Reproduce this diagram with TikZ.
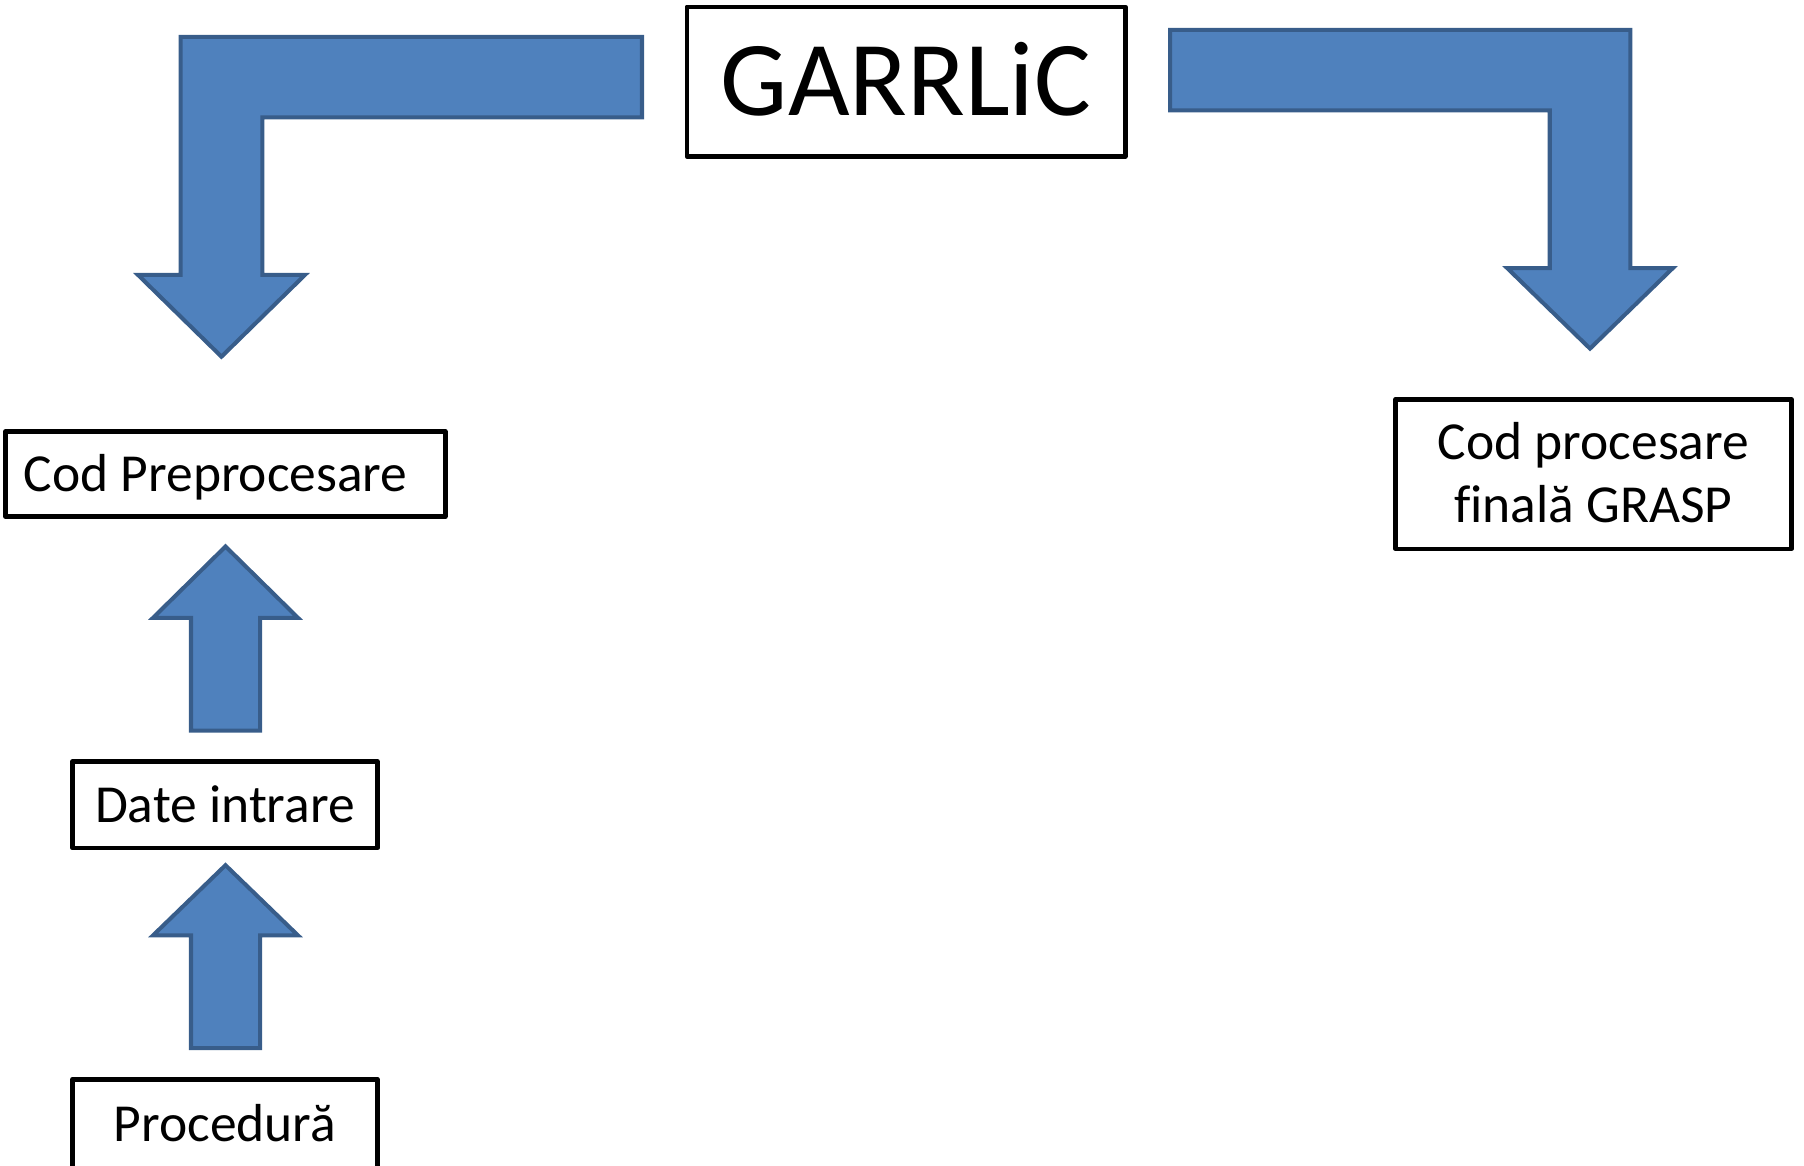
\documentclass[tikz,border=0pt]{standalone}
\usepackage{fontspec}
\setmainfont{Carlito}[Ligatures=CommonOff]
\definecolor{arrowfill}{RGB}{79,129,189}
\definecolor{arrowline}{RGB}{56,93,138}
\begin{document}
\begin{tikzpicture}[x=1pt,y=-1pt,
  blockarrow/.style={fill=arrowfill,draw=arrowline,line width=3.5pt,line join=miter},
  labelfont/.style={font=\fontsize{46.5}{55}\selectfont},
  box/.style={draw=black,line width=4pt,line join=round,inner sep=0pt,
    labelfont,text height=30pt,text depth=0pt},
  titlebox/.style={box,font=\fontsize{92.5}{110}\selectfont,text height=59.6pt},
  line/.style={labelfont,inner sep=0pt,anchor=base}]
\useasboundingbox (0,0) rectangle (1568,1013);

% boxes
\node[titlebox,minimum width=381pt,minimum height=130pt] (garrlic) at (787.5,71) {GARRLiC};
\node[box,minimum width=382pt,minimum height=74pt] (pre) at (196,412) {Cod Preprocesare\hspace*{17pt}};
\node[box,minimum width=265pt,minimum height=75pt] (date) at (195.5,699.5) {Date intrare};
\node[box,minimum width=265pt,minimum height=78pt] (proc) at (195.5,977) {Procedură};
\node[box,minimum width=344pt,minimum height=130pt] (grasp) at (1385,412) {};
\node[line] (grasp1) at (1385,399) {Cod procesare};
\node[line] (grasp2) at (1385,454) {finală GRASP};

% bent arrow from the title down to the preprocessing code
\draw[blockarrow] (558,32) -- (157,32) -- (157,239) -- (120,239) -- (192.5,310)
  -- (265,239) -- (228,239) -- (228,102) -- (558,102) -- cycle;

% bent arrow from the title down to the final GRASP code
\draw[blockarrow] (1017,26) -- (1417,26) -- (1417,233) -- (1454,233) -- (1382,303)
  -- (1310,233) -- (1347,233) -- (1347,96) -- (1017,96) -- cycle;

% upward arrows: input data -> preprocessing, procedure -> input data
\draw[blockarrow] (166,635) -- (166,537) -- (133,537) -- (196,475) -- (259,537)
  -- (226,537) -- (226,635) -- cycle;
\draw[blockarrow] (166,911) -- (166,813) -- (133,813) -- (196,752) -- (259,813)
  -- (226,813) -- (226,911) -- cycle;
\end{tikzpicture}
\end{document}
